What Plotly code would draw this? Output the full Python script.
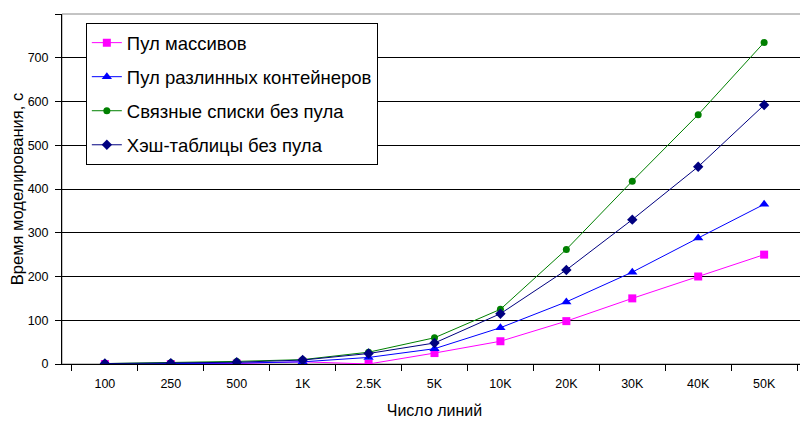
import plotly.graph_objects as go

categories = ["100", "250", "500", "1K", "2.5K", "5K", "10K", "20K", "30K", "40K", "50K"]
pool_arrays = [0, 0, 1, 5, 0, 25, 52, 98, 150, 200, 250]
pool_containers = [0, 1, 2, 5, 15, 35, 83, 142, 210, 288, 365]
linked_lists = [1, 3, 6, 10, 27, 60, 125, 262, 418, 570, 735]
hash_tables = [1, 2, 4, 9, 24, 48, 115, 215, 330, 451, 592]

names = ["Пул массивов", "Пул разлинных контейнеров", "Связные списки без пула", "Хэш-таблицы без пула"]
colors = ["#FF00FF", "#0000FF", "#008000", "#000080"]
symbols = ["square", "triangle-up", "circle", "diamond"]
sizes = [8, 9, 7, 8]
series = [pool_arrays, pool_containers, linked_lists, hash_tables]

fig = go.Figure()
for i, (nm, c, s, sz, y) in enumerate(zip(names, colors, symbols, sizes, series)):
    fig.add_trace(go.Scatter(
        x=categories, y=y, name=nm, mode="lines+markers",
        line=dict(color=c, width=1),
        marker=dict(symbol=s, size=sz, color=c),
        legendgroup=f"g{i}",
    ))

font = "Liberation Sans, Arial, sans-serif"
fig.update_layout(
    width=800, height=418,
    margin=dict(l=54, r=1, t=6, b=62),
    paper_bgcolor="white", plot_bgcolor="white",
    font=dict(family=font, size=12.5, color="black"),
    showlegend=True,
    legend=dict(
        x=0.032, y=0.974, xanchor="left", yanchor="top",
        bgcolor="white", bordercolor="black", borderwidth=1,
        font=dict(family=font, size=18.5, color="black"),
        tracegroupgap=7, traceorder="grouped",
    ),
    xaxis=dict(
        type="category", showgrid=False, showline=True, linecolor="black", linewidth=1,
        ticks="outside", tickson="boundaries", ticklen=6, tickcolor="black",
        ticklabelstandoff=8,
        title=dict(text="Число линий", font=dict(size=16), standoff=14),
        zeroline=False, automargin=False,
    ),
    yaxis=dict(
        range=[0, 800], dtick=100, showgrid=True, gridcolor="black", gridwidth=1,
        showline=True, linecolor="black", ticks="outside", ticklen=6, tickcolor="black",
        ticklabelstandoff=4,
        title=dict(text="Время моделирования, с", font=dict(size=16.5), standoff=4),
        zeroline=False, automargin=False,
    ),
)
fig.add_shape(type="rect", xref="paper", yref="paper", x0=0, x1=1, y0=0, y1=1,
              line=dict(color="#888888", width=1), layer="below")

fig.write_html("out.html")
